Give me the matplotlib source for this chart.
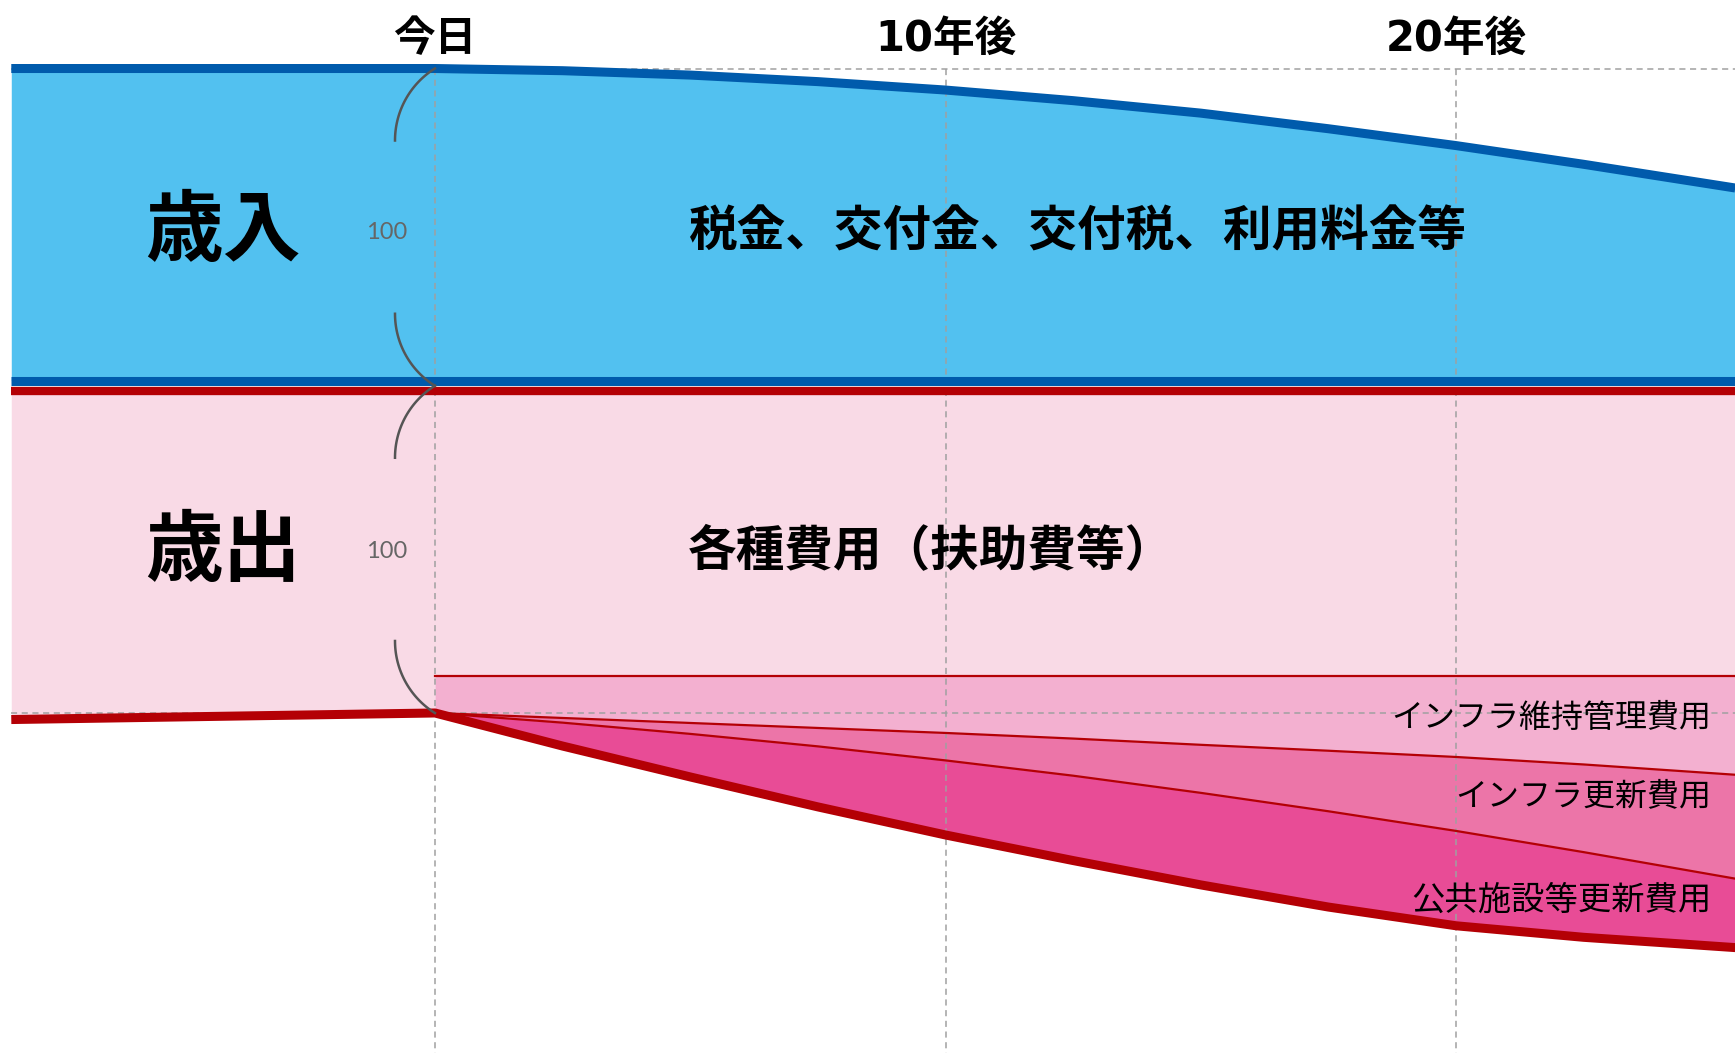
import numpy as np
import matplotlib
matplotlib.use('Agg')
import matplotlib.pyplot as plt

plt.rcParams['font.family'] = ['Noto Sans CJK JP', 'DejaVu Sans']

########################################
# Data (chart units: today's revenue = 100)

rev_years = [-8.3, 0, 2.5, 5, 7.5, 10, 12.5, 15, 17.5, 20, 22.5, 25.47]
revenue = [100, 100, 99.3, 97.9, 95.8, 93.1, 89.7, 85.7, 80.7, 75.3, 69.3, 61.7]

past_years = [-8.3, 0]
exp_past = [105.3, 103.2]

years = [0, 2.5, 5, 7.5, 10, 12.5, 15, 17.5, 20, 22.5, 25.47]
other_costs = 91.3  # 各種費用（扶助費等）
maintenance = [11.9, 13.5, 15.1, 16.7, 18.3, 20.1, 22.1, 24.0, 26.0, 28.4, 31.7]
infra = [0, 1.5, 3.5, 5.9, 8.8, 11.9, 15.4, 19.4, 23.7, 28.1, 33.3]
public = [0, 7.5, 13.8, 19.4, 23.9, 27.2, 29.5, 30.7, 30.4, 27.3, 22.1]

tick_years = [0, 10, 20]
tick_labels = ['今日', '10年後', '20年後']

########################################
# Layout

W, H = 1735, 1053
X0, X1 = -8.521, 25.465
Y0, Y1 = -213.78, 123.72
PX_X = W / (X1 - X0)
PX_Y = H / (Y1 - Y0)

REV_BASE = 1.76   # blue divider line
EXP_TOP = -1.6    # red divider line

BLUE_FILL = '#52C1F0'
BLUE_LINE = '#005BAC'
PINK_FILL = '#F9DAE6'
RED = '#B40005'
MAINT_FILL = '#F3B0D0'
INFRA_FILL = '#EC75A8'
PUBLIC_FILL = '#E84C96'
GRID = '#A0A0A0'

fig = plt.figure(figsize=(W / 100, H / 100), dpi=100)
ax = fig.add_axes([0, 0, 1, 1])
ax.set_xlim(X0, X1)
ax.set_ylim(Y0, Y1)
ax.axis('off')

rev_years = np.array(rev_years)
rev_top = REV_BASE + np.array(revenue)

years = np.array(years)
maint_top = np.full(len(years), EXP_TOP - other_costs)
line1 = maint_top - np.array(maintenance)
line2 = line1 - np.array(infra)
bottom = line2 - np.array(public)
past_bottom = EXP_TOP - np.array(exp_past)

# revenue block
ax.fill_between(rev_years, REV_BASE, rev_top, color=BLUE_FILL, lw=0, zorder=1)

# expense block
ax.fill_between(past_years, EXP_TOP, past_bottom, color=PINK_FILL, lw=0, zorder=1)
ax.fill_between(years, EXP_TOP, maint_top, color=PINK_FILL, lw=0, zorder=1)
ax.fill_between(years, maint_top, line1, color=MAINT_FILL, lw=0, zorder=1)
ax.fill_between(years, line1, line2, color=INFRA_FILL, lw=0, zorder=1)
ax.fill_between(years, line2, bottom, color=PUBLIC_FILL, lw=0, zorder=1)

# dashed guides
dash = (0, (4, 3))
for t in tick_years:
    ax.plot([t, t], [rev_top[1], Y0], color=GRID, lw=1.1, ls=dash, zorder=2)
ax.plot([rev_years[0], X1], [rev_top[1], rev_top[1]], color=GRID, lw=1.1, ls=dash, zorder=2)
ax.plot([rev_years[0], X1], [past_bottom[-1], past_bottom[-1]], color=GRID, lw=1.1,
        ls=dash, zorder=2)

# boundary lines
ax.plot(years, maint_top, color=RED, lw=1.6, zorder=3)
ax.plot(years, line1, color=RED, lw=1.6, zorder=3)
ax.plot(years, line2, color=RED, lw=1.6, zorder=3)
ax.plot(np.r_[past_years[0], years], np.r_[past_bottom[0], bottom], color=RED, lw=6.5,
        solid_capstyle='butt', zorder=4)
ax.plot(rev_years, rev_top, color=BLUE_LINE, lw=6.5, solid_capstyle='butt', zorder=4)
ax.plot([rev_years[0], X1], [REV_BASE, REV_BASE], color=BLUE_LINE, lw=6.5,
        solid_capstyle='butt', zorder=4)
ax.plot([rev_years[0], X1], [EXP_TOP, EXP_TOP], color=RED, lw=6.0,
        solid_capstyle='butt', zorder=4)

########################################
# braces


def brace_arc(y_tip, d, r=85, dx=40, dy=72):
    # arc from the tip (at today's line) bowing left; d=+1 goes up, -1 goes down
    cx = -dx + r
    cy = d * dy
    a = np.arctan2(dy, r - dx)
    th = np.linspace(np.pi, np.pi + d * a, 40)
    xs = (cx + r * np.cos(th)) / PX_X
    ys = y_tip + (cy + r * np.sin(th)) / PX_Y
    ax.plot(xs, ys, color='#555555', lw=1.8, zorder=5)


y_div = (REV_BASE + EXP_TOP) / 2
brace_arc(rev_top[1], -1)
brace_arc(y_div, 1)
brace_arc(y_div, -1)
brace_arc(past_bottom[-1], 1)

rev_label_y = 49.3
exp_label_y = (EXP_TOP + past_bottom[-1]) / 2

for y in (rev_label_y, exp_label_y):
    ax.text(-0.94, y, '100', color='#666666', fontsize=17, ha='center', va='center',
            family=['Lato', 'DejaVu Sans'], zorder=6)

########################################
# text

for t, lab in zip(tick_years, tick_labels):
    ax.text(t, 111.3, lab, fontsize=30, fontweight='bold', ha='center', va='center',
            family=['DejaVu Sans', 'Noto Sans CJK JP'], zorder=6)

ax.text(-4.15, rev_label_y, '歳入', fontsize=56, fontweight='bold', ha='center',
        va='center', zorder=6)
ax.text(-4.15, exp_label_y, '歳出', fontsize=56, fontweight='bold', ha='center',
        va='center', zorder=6)

ax.text(4.96, rev_label_y, '税金、交付金、交付税、利用料金等', fontsize=35,
        fontweight='bold', ha='left', va='center', zorder=6)
ax.text(4.96, exp_label_y, '各種費用（扶助費等）', fontsize=35, fontweight='bold',
        ha='left', va='center', zorder=6)

ax.text(25.0, -106.5, 'インフラ維持管理費用', fontsize=23, ha='right', va='center', zorder=6)
ax.text(25.0, -131.6, 'インフラ更新費用', fontsize=23, ha='right', va='center', zorder=6)
ax.text(25.0, -165.0, '公共施設等更新費用', fontsize=24, ha='right', va='center', zorder=6)

fig.savefig('out.png', dpi=100, facecolor='white')
